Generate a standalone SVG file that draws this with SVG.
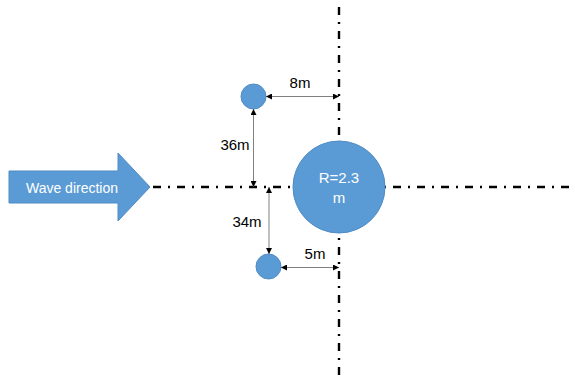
<svg xmlns="http://www.w3.org/2000/svg" width="575" height="379" viewBox="0 0 575 379">
<style>
.axis{stroke:#000;stroke-width:2.4;stroke-dasharray:8 7 2 7;fill:none}
.dim{stroke:#808080;stroke-width:1;fill:none;marker-start:url(#ah);marker-end:url(#ah)}
.blob{fill:#5B9BD5;stroke:#4F8BC4;stroke-width:1}
.lbl{font-family:"Liberation Sans",Arial,sans-serif;font-size:15px;fill:#000;text-anchor:middle}
.wlbl{font-family:"Liberation Sans",Arial,sans-serif;font-size:15px;fill:#fff;text-anchor:middle}
</style>
<defs>
<marker id="ah" viewBox="0 0 10 10" refX="10" refY="5" markerWidth="6" markerHeight="6" markerUnits="userSpaceOnUse" orient="auto-start-reverse">
<path d="M0,0 L10,5 L0,10 z" fill="#000"/>
</marker>
</defs>
<rect width="575" height="379" fill="#fff"/>
<g id="axes">
<line class="axis" x1="150" y1="187" x2="575" y2="187" stroke-dashoffset="-3"/>
<line class="axis" x1="339" y1="0" x2="339" y2="379" stroke-dashoffset="-7"/>
</g>
<g id="wave">
<path class="blob" d="M9,171 L118,171 L118,153 L150,187 L118,221 L118,203 L9,203 Z"/>
<text class="wlbl" x="72" y="193" style="font-size:14px">Wave direction</text>
</g>
<g id="main-cylinder">
<circle class="blob" cx="339" cy="187" r="46"/>
<text class="wlbl" x="339" y="183">R=2.3</text>
<text class="wlbl" x="339" y="203">m</text>
</g>
<g id="cyl-top">
<circle class="blob" cx="253.5" cy="96.5" r="12.5"/>
</g>
<g id="cyl-bottom">
<circle class="blob" cx="268.5" cy="266.5" r="12.5"/>
</g>
<g id="connectors">
<line class="dim" x1="266" y1="96.5" x2="339" y2="96.5"/>
<line class="dim" x1="253.5" y1="109" x2="253.5" y2="187"/>
<line class="dim" x1="269" y1="187" x2="269" y2="254"/>
<line class="dim" x1="281" y1="267.5" x2="339" y2="267.5"/>
</g>
<g id="labels">
<text class="lbl" x="300" y="88">8m</text>
<text class="lbl" x="235" y="150">36m</text>
<text class="lbl" x="247" y="227">34m</text>
<text class="lbl" x="315" y="259">5m</text>
</g>
</svg>
